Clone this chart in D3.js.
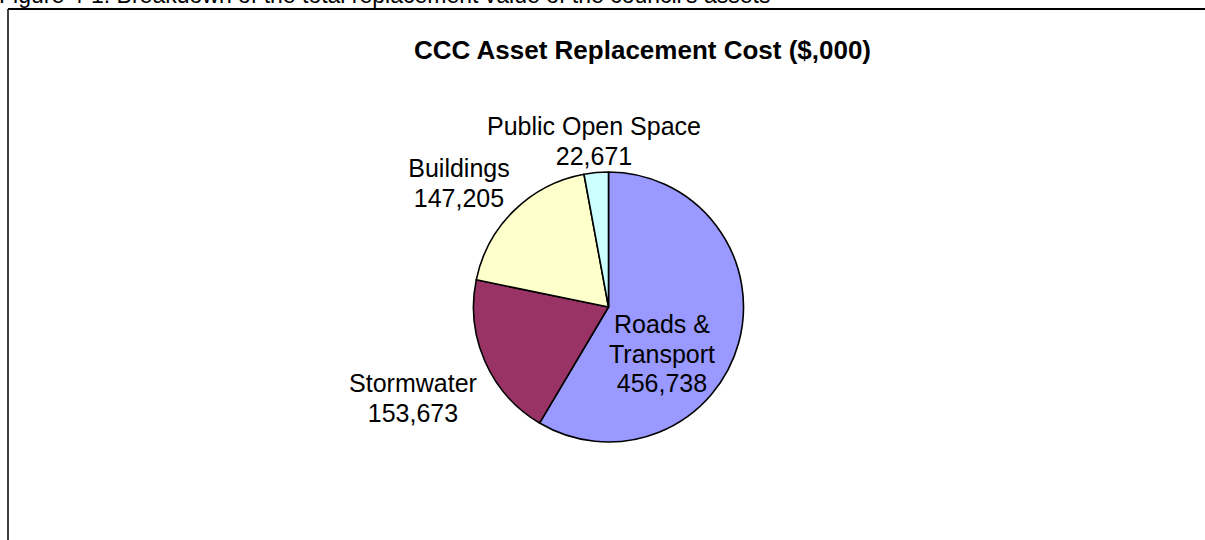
<!DOCTYPE html>
<html>
<head>
<meta charset="utf-8">
<script src="https://cdn.jsdelivr.net/npm/d3@7/dist/d3.min.js"></script>
<style>
  html, body { margin: 0; padding: 0; background: #fff; }
  svg { display: block; }
  text { font-family: "Liberation Sans", Arial, sans-serif; fill: #000; }
</style>
</head>
<body>
<svg id="chart" width="1205" height="540"></svg>
<script>
// ---- data ----
const categories = ["Roads & Transport", "Stormwater", "Buildings", "Public Open Space"];
const values = [456738, 153673, 147205, 22671];
const labelLines = [["Roads &", "Transport"], ["Stormwater"], ["Buildings"], ["Public Open Space"]];
const colors = ["#9999FF", "#993366", "#FFFFCC", "#CCFFFF"];
const title = "CCC Asset Replacement Cost ($,000)";
const caption = "Figure 4-1: Breakdown of the total replacement value of the council's assets";

// ---- layout ----
const svg = d3.select("#chart");
const W = 1205, H = 540;
const cx = 608.5, cy = 307, R = 135;
// label anchor points (centre x, first baseline y)
const labelPos = [[662, 333], [413, 392], [459, 177], [594, 135]];
const lineH = 29.5;

// caption (cropped at top of the picture, as in the reference)
svg.append("text")
  .attr("x", -1).attr("y", 3)
  .attr("font-size", 23)
  .text(caption);

// frame
svg.append("line").attr("x1", 8).attr("x2", W).attr("y1", 9).attr("y2", 9)
  .attr("stroke", "#000").attr("stroke-width", 2);
svg.append("line").attr("x1", 8).attr("x2", 8).attr("y1", 9).attr("y2", H)
  .attr("stroke", "#000").attr("stroke-width", 1.5);

// title
svg.append("text")
  .attr("x", 642.5).attr("y", 59)
  .attr("text-anchor", "middle")
  .attr("font-size", 26).attr("font-weight", "bold")
  .text(title);

// pie
const data = categories.map((c, i) => ({ cat: c, value: values[i], i }));
const pie = d3.pie().value(d => d.value).sort(null).startAngle(0).endAngle(2 * Math.PI);
const arc = d3.arc().innerRadius(0).outerRadius(R);
const g = svg.append("g").attr("transform", `translate(${cx},${cy})`);
g.selectAll("path").data(pie(data)).join("path")
  .attr("d", arc)
  .attr("fill", d => colors[d.data.i])
  .attr("stroke", "#000")
  .attr("stroke-width", 1.6)
  .attr("stroke-linejoin", "round");

// labels
const fmt = d3.format(",");
data.forEach((d, i) => {
  const lines = labelLines[i].concat([fmt(d.value)]);
  const t = svg.append("text")
    .attr("text-anchor", "middle")
    .attr("font-size", 25);
  lines.forEach((ln, k) => {
    t.append("tspan")
      .attr("x", labelPos[i][0])
      .attr("y", labelPos[i][1] + k * lineH)
      .text(ln);
  });
});
</script>
</body>
</html>
